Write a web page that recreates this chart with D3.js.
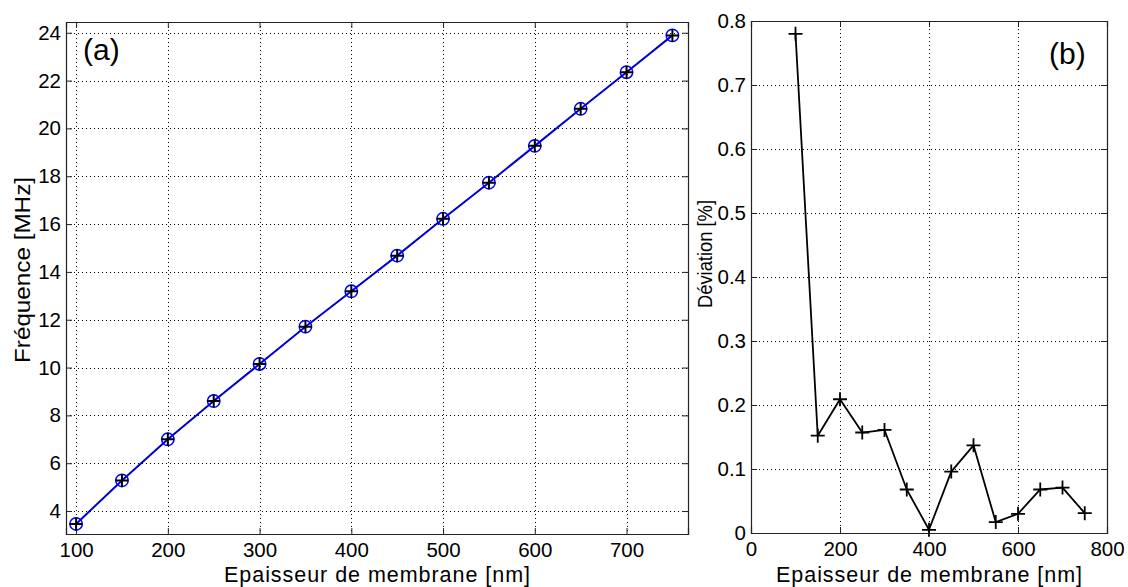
<!DOCTYPE html>
<html><head><meta charset="utf-8">
<script src="https://cdn.jsdelivr.net/npm/d3@7"></script>
<style>
html,body{margin:0;padding:0;background:#fff;}
text{font-family:"Liberation Sans",Arial,Helvetica,sans-serif;fill:#000;}
</style></head>
<body>
<svg id="chart" width="1128" height="587"></svg>
<script>
// ---- data ----
const thickness = [100,150,200,250,300,350,400,450,500,550,600,650,700,750];
const frequency = [3.46,5.28,7.0,8.6,10.15,11.71,13.19,14.68,16.22,17.73,19.27,20.82,22.35,23.89];
const deviation = [0.78,0.152,0.209,0.157,0.161,0.068,0.005,0.096,0.137,0.017,0.030,0.068,0.071,0.031];
const xTicksA = [100,200,300,400,500,600,700];
const yTicksA = [4,6,8,10,12,14,16,18,20,22,24];
const xTicksB = [0,200,400,600,800];
const yTicksB = [0,0.1,0.2,0.3,0.4,0.5,0.6,0.7,0.8];
const xLabel = "Epaisseur de membrane [nm]";
const yLabelA = "Fréquence [MHz]";
const yLabelB = "Déviation [%]";

const svg = d3.select("#chart");
const FONT = '"Liberation Sans",Arial,sans-serif';

function panel(o){
  const g = svg.append("g");
  const x = d3.scaleLinear().domain(o.xd).range([o.l,o.r]);
  const y = d3.scaleLinear().domain(o.yd).range([o.b,o.t]);
  // grid
  const grid = g.append("g").attr("stroke","#000").attr("stroke-width",1).attr("stroke-dasharray","1,3");
  o.xt.forEach(v=>{ if(x(v)>o.l+1 && x(v)<o.r-1) grid.append("line").attr("x1",Math.round(x(v))+0.5).attr("x2",Math.round(x(v))+0.5).attr("y1",o.t).attr("y2",o.b);});
  o.yt.forEach(v=>{ if(y(v)>o.t+1 && y(v)<o.b-1) grid.append("line").attr("y1",Math.round(y(v))+0.5).attr("y2",Math.round(y(v))+0.5).attr("x1",o.l).attr("x2",o.r);});
  // axes with inward ticks
  const tl = 6;
  const axB = d3.axisBottom(x).tickValues(o.xt).tickSize(-tl).tickPadding(8).tickFormat(o.xf||d3.format("d"));
  const axT = d3.axisTop(x).tickValues(o.xt).tickSize(-tl).tickFormat("");
  const axL = d3.axisLeft(y).tickValues(o.yt).tickSize(-tl).tickPadding(5).tickFormat(o.yf||d3.format("d"));
  const axR = d3.axisRight(y).tickValues(o.yt).tickSize(-tl).tickFormat("");
  const st = s=>{s.selectAll("path").attr("stroke","#222"); s.selectAll("line").attr("stroke","#222"); s.selectAll("text").style("font-size","20.5px").style("font-family",FONT).attr("fill","#000");};
  g.append("g").attr("transform",`translate(0,${o.b})`).call(axB).call(st);
  g.append("g").attr("transform",`translate(0,${o.t})`).call(axT).call(st);
  g.append("g").attr("transform",`translate(${o.l},0)`).call(axL).call(st);
  g.append("g").attr("transform",`translate(${o.r},0)`).call(axR).call(st);
  g.selectAll(".domain").attr("stroke-width",1.2);
  // labels
  g.append("text").attr("x",(o.l+o.r)/2).attr("y",582).attr("text-anchor","middle")
    .style("font-size","21.5px").attr("textLength",306).attr("lengthAdjust","spacing").text(xLabel);
  g.append("text").attr("transform",`translate(${o.yl},${o.yc}) rotate(-90)`).attr("text-anchor","middle")
    .style("font-size",o.yfs+"px").attr("textLength",o.ylen).attr("lengthAdjust","spacingAndGlyphs").text(o.ylab);
  return {g,x,y};
}

// Panel (a)
const A = panel({l:66,r:688,t:22,b:534,xd:[89,767],yd:[3.04,24.45],xt:xTicksA,yt:yTicksA,
  yl:30,yc:270,yfs:22,ylen:186,ylab:yLabelA});
const lineA = d3.line().x((d,i)=>A.x(thickness[i])).y(d=>A.y(d));
A.g.append("path").datum(frequency).attr("d",lineA).attr("fill","none").attr("stroke","#0000ff").attr("stroke-width",2);
A.g.append("path").datum(frequency).attr("d",lineA).attr("fill","none").attr("stroke","#000").attr("stroke-width",0.8).attr("stroke-dasharray","3,3");
A.g.selectAll("circle.m").data(frequency).enter().append("circle")
  .attr("cx",(d,i)=>A.x(thickness[i])).attr("cy",d=>A.y(d)).attr("r",6.2)
  .attr("fill","none").attr("stroke","#0000ff").attr("stroke-width",1.5);
A.g.selectAll("path.p").data(frequency).enter().append("path")
  .attr("d",(d,i)=>{const cx=A.x(thickness[i]),cy=A.y(d),s=6.5;return `M${cx-s},${cy}H${cx+s}M${cx},${cy-s}V${cy+s}`;})
  .attr("stroke","#000").attr("stroke-width",2).attr("fill","none");
A.g.append("text").attr("x",83).attr("y",60).style("font-size","30px").text("(a)");

// Panel (b)
const B = panel({l:751,r:1107,t:21,b:533,xd:[0,800],yd:[0,0.8],xt:xTicksB,yt:yTicksB,
  yl:712,yc:254,yfs:21,ylen:108,ylab:yLabelB,
  yf:d=>d===0?"0":d3.format(".1f")(d)});
const lineB = d3.line().x((d,i)=>B.x(thickness[i])).y(d=>B.y(d));
B.g.append("path").datum(deviation).attr("d",lineB).attr("fill","none").attr("stroke","#000").attr("stroke-width",1.8).attr("stroke-linejoin","round");
B.g.selectAll("path.p").data(deviation).enter().append("path")
  .attr("d",(d,i)=>{const cx=B.x(thickness[i]),cy=B.y(d),s=7;return `M${cx-s},${cy}H${cx+s}M${cx},${cy-s}V${cy+s}`;})
  .attr("stroke","#000").attr("stroke-width",1.8).attr("fill","none");
B.g.append("text").attr("x",1049).attr("y",64).style("font-size","30px").text("(b)");
</script>
</body></html>
